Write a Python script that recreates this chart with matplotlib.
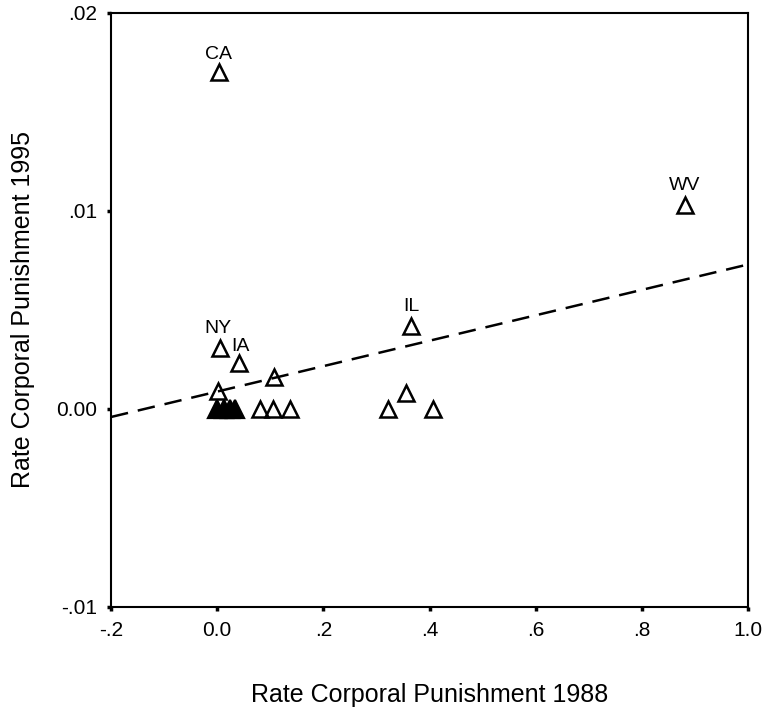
import matplotlib
matplotlib.use("Agg")
import matplotlib.pyplot as plt
import numpy as np

plt.rcParams['font.family'] = ['Liberation Sans', 'DejaVu Sans']

# 1988 rate (x) vs 1995 rate (y), open triangles
x_open = [0.003, 0.881, 0.365, 0.005, 0.041, 0.107, 0.002, 0.081, 0.105, 0.137, 0.322, 0.356, 0.407]
y_open = [0.0170, 0.0103, 0.0042, 0.0031, 0.0023, 0.0016, 0.0009, 0.0, 0.0, 0.0, 0.0, 0.0008, 0.0]

# overlapping cases near the origin (drawn filled)
x_filled = [0.0, 0.012, 0.024, 0.034]
y_filled = [0.0, 0.0, 0.0, 0.0]

# labelled states
state_names = ["CA", "WV", "IL", "NY", "IA"]
state_x = [0.003, 0.881, 0.365, 0.005, 0.041]
state_y = [0.0170, 0.0103, 0.0042, 0.0031, 0.0023]

# fitted line
fit_intercept = 0.00088
fit_slope = 0.00642

x_ticks = [-0.2, 0.0, 0.2, 0.4, 0.6, 0.8, 1.0]
x_ticklabels = ["-.2", "0.0", ".2", ".4", ".6", ".8", "1.0"]
y_ticks = [-0.01, 0.0, 0.01, 0.02]
y_ticklabels = ["-.01", "0.00", ".01", ".02"]

fig = plt.figure(figsize=(7.63, 7.08), dpi=100)
ax = fig.add_axes([111 / 763, 1 - 607 / 708, (748 - 111) / 763, (607 - 13) / 708])

xl = np.array([-0.2, 1.0])
ax.plot(xl, fit_intercept + fit_slope * xl, color="black", lw=1.8,
        dashes=(7, 4), zorder=1)

ax.plot(x_filled, y_filled, linestyle="none", marker="^", markersize=13,
        markerfacecolor="black", markeredgecolor="black", mew=1.6, zorder=2)
ax.plot(x_open, y_open, linestyle="none", marker="^", markersize=12,
        markerfacecolor="none", markeredgecolor="black", mew=1.8, zorder=3)

# label offsets in points
offsets = {"CA": (0, 7), "WV": (0, 8), "IL": (0, 8), "NY": (-1, 8), "IA": (1, 6)}
for name, sx, sy in zip(state_names, state_x, state_y):
    dx, dy = offsets[name]
    ax.annotate(name, (sx, sy), xytext=(dx, dy), textcoords="offset points",
                ha="center", va="bottom", fontsize=14)

ax.set_xlim(-0.2, 1.0)
ax.set_ylim(-0.01, 0.02)
ax.set_xticks(x_ticks)
ax.set_xticklabels(x_ticklabels)
ax.set_yticks(y_ticks)
ax.set_yticklabels(y_ticklabels)
ax.tick_params(direction="out", length=3, width=2.5, labelsize=15, pad=7)

for sp in ax.spines.values():
    sp.set_linewidth(1.5)

ax.set_xlabel("Rate Corporal Punishment 1988", fontsize=18, va="center")
ax.set_ylabel("Rate Corporal Punishment 1995", fontsize=18, va="center")
ax.xaxis.set_label_coords(0.5, -88 / 594)
ax.yaxis.set_label_coords(-88 / 637, 0.5)

fig.savefig("out.png", dpi=100)
